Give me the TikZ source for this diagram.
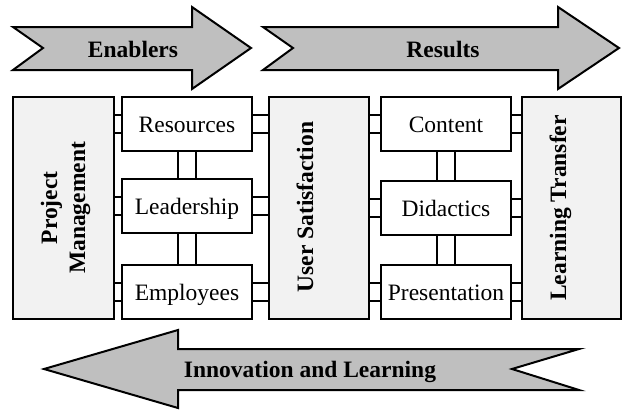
\documentclass[tikz,border=0pt]{standalone}
\usepackage{fontspec}
\setmainfont{Liberation Serif}
\usetikzlibrary{calc}

\definecolor{bandgray}{gray}{0.75}
\definecolor{pillargray}{gray}{0.95}

\tikzset{
    part/.style={draw, line width=2pt, fill=white, minimum width=130pt,
        minimum height=54pt, inner sep=0pt, text height=16pt, text depth=0pt,
        font=\fontsize{23.5}{28}\selectfont},
    pillar/.style={draw, line width=2pt, fill=pillargray, minimum height=222pt, inner sep=0pt},
    pillarlabel/.style={rotate=90, anchor=base, inner sep=0pt,
        font=\bfseries\fontsize{23.5}{28}\selectfont},
    band/.style={draw, line width=2pt, fill=bandgray},
    bandlabel/.style={anchor=base, inner sep=0pt, font=\bfseries\fontsize{23.5}{28}\selectfont},
    link/.style={line width=2pt}
}

\begin{document}
\begin{tikzpicture}[x=1pt, y=-1pt]
    %\draw[lightgray] (0, 0) grid[step=50] (622, 410);
    \useasboundingbox (0, 0) rectangle (622, 410);
    \draw[band] (13, 27) -- (192, 27) -- (192, 7) -- (251, 48) -- (192, 89) -- (192, 70) -- (13, 70) -- (43, 48) -- cycle;
    \draw[band] (263, 27) -- (558, 27) -- (558, 7) -- (619, 48) -- (558, 89) -- (558, 70) -- (263, 70) -- (293, 48) -- cycle;
    \draw[band] (44, 369) -- (178, 330) -- (178, 349) -- (579, 349) -- (512, 369) -- (579, 390) -- (178, 390) -- (178, 408) -- cycle;
    \node[bandlabel] (enablers) at (133, 57) {Enablers};
    \node[bandlabel] (results) at (443, 57) {Results};
    \node[bandlabel] (innovation) at (310, 377) {Innovation and Learning};

    \node[pillar, minimum width=101pt] (pm) at (63.5, 208) {};
    \node[pillar, minimum width=100pt] (us) at (319, 208) {};
    \node[pillar, minimum width=99pt] (lt) at (571.5, 208) {};
    \node[pillarlabel, anchor=center, align=center] (pmtext) at (65.5, 208) {Project\\Management};
    \node[pillarlabel] (ustext) at (313, 207) {User Satisfaction};
    \node[pillarlabel] (lttext) at (566, 208) {Learning Transfer};

    \node[part] (res) at (187, 124) {Resources};
    \node[part] (lead) at (187, 206) {Leadership};
    \node[part] (emp) at (187, 292) {Employees};
    \node[part] (con) at (446, 124) {Content};
    \node[part] (did) at (446, 208) {Didactics};
    \node[part] (pres) at (446, 292) {Presentation};

    \foreach \d in {-9, 9} {
        \foreach \b in {res, lead, emp} {
            \draw[link] ($(\b.west) + (0, \d)$) -- ($(pm.east |- \b.west) + (0, \d)$);
            \draw[link] ($(\b.east) + (0, \d)$) -- ($(us.west |- \b.east) + (0, \d)$);
        }
        \foreach \b in {con, did, pres} {
            \draw[link] ($(\b.west) + (0, \d)$) -- ($(us.east |- \b.west) + (0, \d)$);
            \draw[link] ($(\b.east) + (0, \d)$) -- ($(lt.west |- \b.east) + (0, \d)$);
        }
        \foreach \a/\b in {res/lead, lead/emp, con/did, did/pres}
            \draw[link] ($(\a.south) + (\d, 0)$) -- ($(\b.north) + (\d, 0)$);
    }
\end{tikzpicture}
\end{document}
